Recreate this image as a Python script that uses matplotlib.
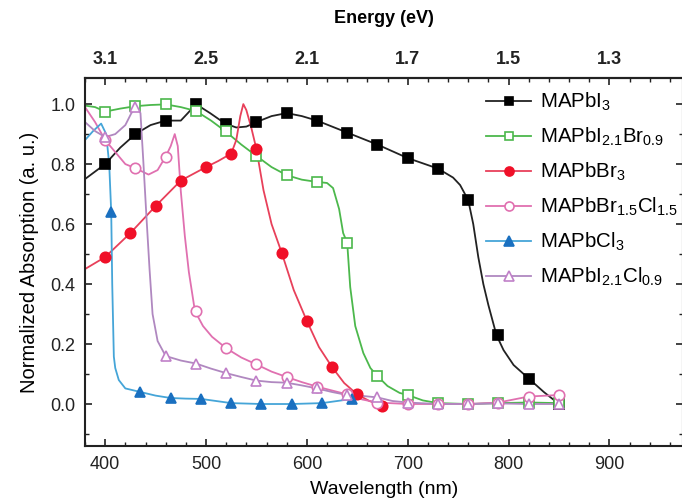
# Absorption spectra of mixed-halide perovskites (normalized)
import matplotlib
matplotlib.use("Agg")
import matplotlib.pyplot as plt
from matplotlib.ticker import MultipleLocator

plt.rcParams['font.family'] = ['Liberation Sans', 'DejaVu Sans']
plt.rcParams['mathtext.default'] = 'regular'

# ---- data ----
# marker positions (wavelength nm, normalized absorption)
mapbi3_wl = [400, 430, 460, 490, 520, 550, 580, 610, 640, 670, 700, 730, 760, 790, 820, 850]
mapbi3_abs = [0.80, 0.90, 0.945, 1.0, 0.935, 0.94, 0.97, 0.945, 0.905, 0.865, 0.82, 0.785, 0.68, 0.23, 0.085, 0.0]

ibr_wl = [400, 430, 460, 490, 520, 550, 580, 610, 640, 670, 700, 730, 760, 790, 820, 850]
ibr_abs = [0.975, 0.993, 0.999, 0.977, 0.91, 0.827, 0.763, 0.741, 0.538, 0.093, 0.03, 0.003, 0.0, 0.003, 0.005, 0.003]

mapbbr3_wl = [400, 425, 450, 475, 500, 525, 550, 575, 600, 625, 650, 675]
mapbbr3_abs = [0.49, 0.57, 0.66, 0.745, 0.79, 0.835, 0.85, 0.505, 0.277, 0.123, 0.032, -0.005]

brcl_wl = [400, 430, 460, 490, 520, 550, 580, 610, 640, 670, 700, 730, 760, 790, 820, 850]
brcl_abs = [0.88, 0.786, 0.825, 0.31, 0.186, 0.132, 0.09, 0.058, 0.032, 0.005, 0.0, 0.0, 0.0, 0.005, 0.025, 0.03]

mapbcl3_wl = [406, 435, 465, 495, 525, 555, 585, 615, 645]
mapbcl3_abs = [0.64, 0.04, 0.02, 0.017, 0.003, 0.0, 0.0, 0.003, 0.017]

icl_wl = [400, 430, 460, 490, 520, 550, 580, 610, 640, 670, 700, 730, 760, 790, 820, 850]
icl_abs = [0.89, 0.99, 0.16, 0.135, 0.103, 0.078, 0.071, 0.052, 0.03, 0.022, 0.005, 0.0, 0.0, 0.002, 0.0, 0.0]

# traced curves between the markers
mapbi3_line_wl = [380, 400, 415, 430, 445, 460, 475, 482, 490, 504, 519, 530, 540, 550, 565, 580,
                  595, 610, 640, 670, 700, 730, 745, 752, 760, 765, 770, 775, 780, 788, 795, 805,
                  820, 835, 850]
mapbi3_line_abs = [0.75, 0.80, 0.855, 0.90, 0.93, 0.945, 0.945, 0.97, 1.0, 0.97, 0.935, 0.922,
                   0.925, 0.94, 0.96, 0.97, 0.96, 0.945, 0.905, 0.865, 0.82, 0.785, 0.755, 0.73,
                   0.68, 0.60, 0.49, 0.40, 0.33, 0.23, 0.18, 0.13, 0.085, 0.04, 0.0]

ibr_line_wl = [380, 390, 400, 415, 430, 445, 460, 475, 490, 505, 519, 535, 550, 565, 580, 595,
               609, 620, 626, 632, 636, 640, 643, 648, 656, 663, 670, 680, 692, 700, 715, 730,
               760, 790, 820, 850]
ibr_line_abs = [0.995, 0.99, 0.975, 0.985, 0.993, 0.997, 0.999, 0.99, 0.977, 0.945, 0.91, 0.865,
                0.827, 0.79, 0.763, 0.748, 0.741, 0.737, 0.72, 0.65, 0.57, 0.538, 0.39, 0.26,
                0.17, 0.12, 0.093, 0.06, 0.037, 0.03, 0.012, 0.003, 0.0, 0.003, 0.005, 0.003]

mapbbr3_line_wl = [380, 400, 425, 450, 475, 500, 512, 525, 530, 534, 537, 540, 545, 550, 557,
                   565, 575, 587, 600, 612, 625, 637, 650, 662, 675]
mapbbr3_line_abs = [0.45, 0.49, 0.57, 0.66, 0.745, 0.79, 0.81, 0.835, 0.88, 0.96, 1.0, 0.98,
                    0.92, 0.85, 0.713, 0.60, 0.505, 0.38, 0.277, 0.19, 0.123, 0.07, 0.032, 0.01,
                    -0.005]

brcl_line_wl = [380, 390, 400, 410, 420, 430, 443, 452, 460, 465, 469, 472, 475, 479, 483, 489,
                497, 506, 520, 535, 550, 565, 580, 595, 610, 625, 640, 655, 670, 700, 730, 760,
                790, 820, 850]
brcl_line_abs = [0.99, 0.94, 0.88, 0.84, 0.80, 0.786, 0.765, 0.78, 0.825, 0.86, 0.90, 0.86, 0.71,
                 0.56, 0.44, 0.31, 0.26, 0.224, 0.186, 0.155, 0.132, 0.108, 0.09, 0.073, 0.058,
                 0.045, 0.032, 0.015, 0.005, 0.0, 0.0, 0.0, 0.005, 0.025, 0.03]

mapbcl3_line_wl = [380, 388, 396, 401, 404, 406, 407, 408.6, 410, 413.5, 420, 435, 450, 465, 480,
                   495, 510, 525, 555, 585, 615, 630, 645]
mapbcl3_line_abs = [0.88, 0.91, 0.935, 0.90, 0.80, 0.64, 0.40, 0.158, 0.12, 0.08, 0.052, 0.04,
                    0.028, 0.02, 0.018, 0.017, 0.01, 0.003, 0.0, 0.0, 0.003, 0.01, 0.017]

icl_line_wl = [380, 390, 400, 410, 420, 426, 431, 435, 438, 441, 444, 447, 452, 460, 475, 490,
               505, 520, 535, 550, 565, 580, 595, 610, 625, 640, 655, 670, 685, 700, 730, 760,
               790, 820, 850]
icl_line_abs = [0.94, 0.91, 0.89, 0.90, 0.93, 0.97, 0.99, 0.97, 0.80, 0.62, 0.45, 0.30, 0.21,
                0.16, 0.145, 0.135, 0.118, 0.103, 0.09, 0.078, 0.073, 0.071, 0.062, 0.052, 0.04,
                0.03, 0.027, 0.022, 0.01, 0.005, 0.0, 0.0, 0.002, 0.0, 0.0]

wl_ticks = [400, 500, 600, 700, 800, 900]
energy_labels = ['3.1', '2.5', '2.1', '1.7', '1.5', '1.3']

# ---- figure ----
fig = plt.figure(figsize=(6.82, 4.98), dpi=100)
ax = fig.add_axes([85 / 682, 1 - 446 / 498, 598 / 682, 368 / 498])

series = [
    (mapbi3_line_wl, mapbi3_line_abs, mapbi3_wl, mapbi3_abs, 's', '#222222', '#000000', '#000000', 6.5, r'MAPbI$_3$'),
    (ibr_line_wl, ibr_line_abs, ibr_wl, ibr_abs, 's', '#4cb84c', 'white', '#4cb84c', 6.5, r'MAPbI$_{2.1}$Br$_{0.9}$'),
    (mapbbr3_line_wl, mapbbr3_line_abs, mapbbr3_wl, mapbbr3_abs, 'o', '#e8405a', '#f01028', '#f01028', 7.5, r'MAPbBr$_3$'),
    (brcl_line_wl, brcl_line_abs, brcl_wl, brcl_abs, 'o', '#e070b0', 'white', '#e070b0', 7.5, r'MAPbBr$_{1.5}$Cl$_{1.5}$'),
    (mapbcl3_line_wl, mapbcl3_line_abs, mapbcl3_wl, mapbcl3_abs, '^', '#45a5d8', '#1a70c0', '#1a70c0', 7.5, r'MAPbCl$_3$'),
    (icl_line_wl, icl_line_abs, icl_wl, icl_abs, '^', '#b088c0', 'white', '#c080c8', 7.5, r'MAPbI$_{2.1}$Cl$_{0.9}$'),
]

handles = []
for lx, ly, mx, my, mk, lc, mfc, mec, ms, lab in series:
    ax.plot(lx, ly, color=lc, lw=1.3, zorder=2)
    ax.plot(mx, my, ls='none', marker=mk, ms=ms, mfc=mfc, mec=mec, mew=1.2, zorder=3)
    h, = ax.plot([], [], color=lc, lw=1.3, marker=mk, ms=ms - 1, mfc=mfc, mec=mec, mew=1.2, label=lab)
    handles.append(h)

ax.set_xlim(380, 973)
ax.set_ylim(-0.14, 1.087)

ax.set_xticks(wl_ticks)
ax.xaxis.set_minor_locator(MultipleLocator(20))
ax.set_yticks([0.0, 0.2, 0.4, 0.6, 0.8, 1.0])
ax.set_yticklabels(['0.0', '0.2', '0.4', '0.6', '0.8', '1.0'])
ax.yaxis.set_minor_locator(MultipleLocator(0.1))
ax.tick_params(which='both', direction='in', right=True, labelsize=13, colors='#222222')
ax.tick_params(which='major', length=5, width=1.2, pad=7)
ax.tick_params(which='minor', length=3, width=1.0)

top = ax.secondary_xaxis('top')
top.set_xticks(wl_ticks)
top.set_xticklabels(energy_labels)
top.xaxis.set_minor_locator(MultipleLocator(20))
top.tick_params(which='both', direction='in', labelsize=13, colors='#222222')
top.tick_params(which='major', length=5, width=1.2, pad=7)
top.tick_params(which='minor', length=3, width=1.0)
top.set_xlabel('Energy (eV)', fontsize=13, fontweight='bold', labelpad=20)
for lbl in top.get_xticklabels():
    lbl.set_fontweight('bold')
top.spines['top'].set_linewidth(1.5)

for s in ax.spines.values():
    s.set_linewidth(1.5)
    s.set_color('#222222')

ax.set_xlabel('Wavelength (nm)', fontsize=14, labelpad=6)
ax.set_ylabel('Normalized Absorption (a. u.)', fontsize=14.5, labelpad=8)

ax.legend(handles=handles, loc='upper left', bbox_to_anchor=(0.643, 1.01), frameon=False,
          fontsize=14.8, handlelength=2.2, handletextpad=0.45, labelspacing=0.62, borderpad=0.3)

fig.savefig('out.png', dpi=100)
